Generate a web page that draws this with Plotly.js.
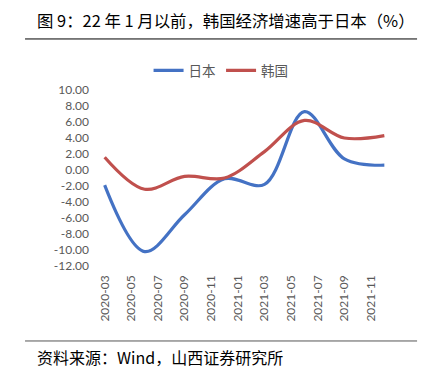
<!DOCTYPE html>
<html>
<head>
<meta charset="utf-8">
<script src="https://cdn.plot.ly/plotly-3.0.1.min.js"></script>
<style>html,body{margin:0;padding:0;background:#fff;}#chart{width:432px;height:374px;}</style>
</head>
<body>
<div id="chart"></div>
<script>
// monthly category slots on the date axis
const months = ["2020-03","2020-04","2020-05","2020-06","2020-07","2020-08","2020-09","2020-10","2020-11","2020-12",
  "2021-01","2021-02","2021-03","2021-04","2021-05","2021-06","2021-07","2021-08","2021-09","2021-10","2021-11","2021-12"];
const tickLabels = ["2020-03","2020-05","2020-07","2020-09","2020-11","2021-01","2021-03","2021-05","2021-07","2021-09","2021-11"];
// quarterly observations
const quarters = ["2020-03","2020-06","2020-09","2020-12","2021-03","2021-06","2021-09","2021-12"];
const japan = [-1.9, -10.2, -5.6, -1.1, -1.8, 7.3, 1.4, 0.6];
const korea = [1.6, -2.4, -0.8, -1.0, 2.3, 6.2, 4.0, 4.3];
const yTicks = [10,8,6,4,2,0,-2,-4,-6,-8,-10,-12];

const xq = quarters.map(q => months.indexOf(q));
const labelPos = tickLabels.map(l => months.indexOf(l));
const boundaries = months.map((m,i) => i - 0.5).concat([months.length - 0.5]);
const yMin = -12, yMax = 10;

const tickFont = {family: "Lato, 'Open Sans', sans-serif", size: 12, color: "#595959"};
const cjk = "'Noto Sans CJK SC', sans-serif";

const traces = [
  {x: xq, y: japan, name: "日本", type: "scatter", mode: "lines",
   line: {color: "#4472C4", width: 3.2, shape: "spline", smoothing: 1}},
  {x: xq, y: korea, name: "韩国", type: "scatter", mode: "lines",
   line: {color: "#C0504D", width: 3.2, shape: "spline", smoothing: 1}}
];

const layout = {
  width: 432, height: 374,
  margin: {l: 98, r: 41, t: 90, b: 108},
  paper_bgcolor: "#fff", plot_bgcolor: "#fff",
  showlegend: true,
  legend: {orientation: "h", x: 0.42, xanchor: "center", y: 1.11, yanchor: "middle",
           font: {family: cjk, size: 13.5, color: "#595959"}, itemwidth: 30, tracegroupgap: 0},
  xaxis: {type: "linear", range: [-0.5, months.length - 0.5], tickmode: "array",
          tickvals: labelPos, ticktext: tickLabels, tickangle: -90, ticks: "",
          showline: false, showgrid: false, zeroline: false, tickfont: tickFont, ticklabelstandoff: 6},
  xaxis2: {type: "linear", overlaying: "x", anchor: "free", side: "bottom",
           position: (0 - yMin) / (yMax - yMin),
           range: [-0.5, months.length - 0.5], tickmode: "array", tickvals: boundaries,
           ticks: "outside", ticklen: 5, tickcolor: "#d9d9d9", tickwidth: 1,
           showline: true, linecolor: "#d9d9d9", linewidth: 1,
           showticklabels: false, showgrid: false, zeroline: false},
  yaxis: {range: [yMin, yMax], tickmode: "array", tickvals: yTicks,
          ticktext: yTicks.map(v => v.toFixed(2)), ticks: "", showline: false,
          showgrid: false, zeroline: false, tickfont: tickFont, ticklabelstandoff: 8},
  annotations: [
    {xref: "paper", yref: "paper", x: -0.215, xanchor: "left", y: 1.398, yanchor: "middle",
     text: "图 9：22 年 1 月以前，韩国经济增速高于日本（%）", showarrow: false,
     font: {family: cjk, size: 16.4, color: "#000"}},
    {xref: "paper", yref: "paper", x: -0.215, xanchor: "left", y: -0.517, yanchor: "middle",
     text: "资料来源：Wind，山西证券研究所", showarrow: false,
     font: {family: cjk, size: 16, color: "#000"}}
  ],
  shapes: [
    {type: "line", xref: "paper", yref: "paper", x0: -0.249, x1: 1.089, y0: 1.29, y1: 1.29,
     line: {color: "#000", width: 1}},
    {type: "line", xref: "paper", yref: "paper", x0: -0.249, x1: 1.089, y0: -0.426, y1: -0.426,
     line: {color: "#555", width: 1}}
  ]
};

Plotly.newPlot("chart", traces, layout, {displayModeBar: false, staticPlot: true});
</script>
</body>
</html>
